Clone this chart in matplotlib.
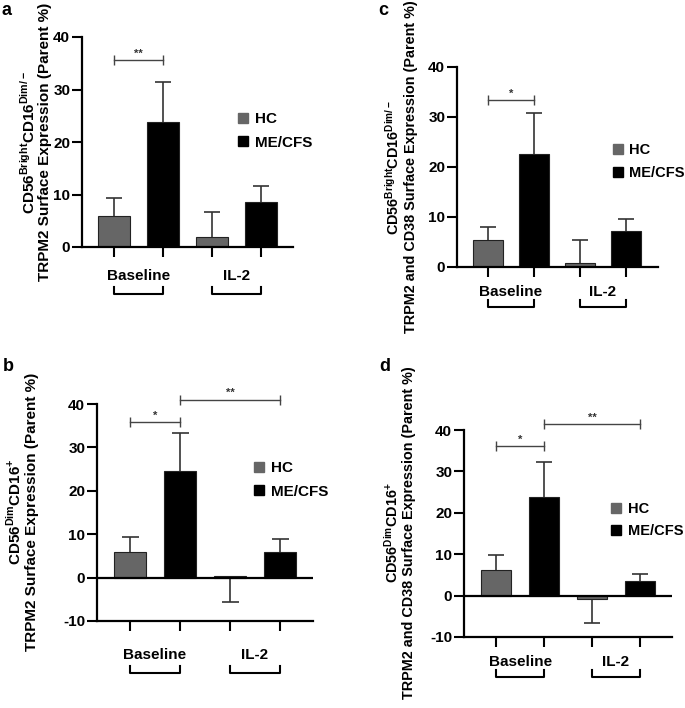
import matplotlib
matplotlib.use("Agg")
import matplotlib.pyplot as plt
from matplotlib.lines import Line2D

plt.rcParams["font.family"] = ["Liberation Sans", "DejaVu Sans"]
plt.rcParams["font.weight"] = "bold"
plt.rcParams["mathtext.fontset"] = "custom"
plt.rcParams["mathtext.rm"] = "Liberation Sans"
plt.rcParams["mathtext.bf"] = "Liberation Sans:bold"

# %%
# Data (means and the value each error bar reaches)
groups = ["Baseline", "IL-2"]
series = ["HC", "ME/CFS"]

a_hc = [6.0, 2.0]
a_hc_err = [9.3, 6.7]
a_me = [23.8, 8.5]
a_me_err = [31.4, 11.6]
a_sig = [(0, 1, 35.6, "**")]

b_hc = [6.0, 0.3]
b_hc_err = [9.3, -5.7]
b_me = [24.6, 6.0]
b_me_err = [33.4, 8.8]
b_sig = [(0, 1, 35.8, "*"), (1, 3, 41.0, "**")]

c_hc = [5.4, 0.8]
c_hc_err = [8.1, 5.5]
c_me = [22.7, 7.2]
c_me_err = [30.9, 9.6]
c_sig = [(0, 1, 33.4, "*")]

d_hc = [6.3, -0.8]
d_hc_err = [9.7, -6.5]
d_me = [23.9, 3.5]
d_me_err = [32.3, 5.3]
d_sig = [(0, 1, 36.1, "*"), (1, 3, 41.5, "**")]

ylabel_a = [r"$\mathbf{CD56}^{\mathrm{Bright}}\mathbf{CD16}^{\mathrm{Dim/-}}$",
            "TRPM2 Surface Expression (Parent %)"]
ylabel_b = [r"$\mathbf{CD56}^{\mathrm{Dim}}\mathbf{CD16}^{+}$",
            "TRPM2 Surface Expression (Parent %)"]
ylabel_c = [r"$\mathbf{CD56}^{\mathrm{Bright}}\mathbf{CD16}^{\mathrm{Dim/-}}$",
            "TRPM2 and CD38 Surface Expression (Parent %)"]
ylabel_d = [r"$\mathbf{CD56}^{\mathrm{Dim}}\mathbf{CD16}^{+}$",
            "TRPM2 and CD38 Surface Expression (Parent %)"]

HC_COLOR = "#666666"
ME_COLOR = "#000000"
ERR_COLOR = "#333333"

W, H = 685, 708
fig = plt.figure(figsize=(W / 100, H / 100), dpi=100)


def add_axes_px(left, right, top, bottom):
    return fig.add_axes([left / W, 1 - bottom / H, (right - left) / W, (bottom - top) / H])


def panel(ax, hc, hc_end, me, me_end, sig, ylim, xlim, yticks, leg_xy,
          cat_dy, bracket_dy, leg_size):
    xs = [0, 1, 2, 3]
    means = [hc[0], me[0], hc[1], me[1]]
    ends = [hc_end[0], me_end[0], hc_end[1], me_end[1]]
    colors = [HC_COLOR, ME_COLOR, HC_COLOR, ME_COLOR]

    ax.bar(xs, means, width=0.64, color=colors, edgecolor="#222222",
           linewidth=0.8, zorder=2)
    # one-sided error bars (Prism style): stem from bar top plus a single cap
    cap = 0.17
    ax.vlines(xs, means, ends, color=ERR_COLOR, lw=1.2, zorder=1)
    ax.hlines(ends, [x - cap for x in xs], [x + cap for x in xs],
              color=ERR_COLOR, lw=1.2, zorder=1)

    ax.set_xlim(*xlim)
    ax.set_ylim(*ylim)
    ax.set_yticks(yticks)
    ax.set_yticklabels([str(t) for t in yticks], fontsize=11, fontweight="bold")
    ax.set_xticks(xs)
    ax.set_xticklabels([])
    ax.tick_params(axis="y", direction="out", length=7, width=1.5, pad=1.5)
    ax.tick_params(axis="x", direction="out", length=7, width=1.5)
    for s in ["top", "right"]:
        ax.spines[s].set_visible(False)
    for s in ["left", "bottom"]:
        ax.spines[s].set_linewidth(1.6)
    if ylim[0] < 0:
        ax.axhline(0, color="black", lw=1.6, zorder=3)

    # significance brackets
    for i0, i1, y, star in sig:
        ax.plot([i0, i1], [y, y], color="#444444", lw=1, clip_on=False)
        ax.plot([i0, i1], [y, y], ls="none", marker="|", ms=7, mew=1,
                color="#444444", clip_on=False)
        ax.annotate(star, (0.5 * (i0 + i1), y), xytext=(0, 1),
                    textcoords="offset points", ha="center", va="bottom",
                    fontsize=8, fontweight="bold", color="#333333",
                    annotation_clip=False)

    # group labels and brackets below the axis
    trans = ax.get_xaxis_transform()
    hpx = ax.bbox.height
    for g, name in enumerate(groups):
        x0, x1 = 2 * g, 2 * g + 1
        ax.text(0.5 * (x0 + x1), -cat_dy / hpx, name, transform=trans,
                ha="center", va="center", fontsize=11, fontweight="bold")
        yb = -bracket_dy / hpx
        yt = -(bracket_dy - 7) / hpx
        ax.plot([x0, x0, x1, x1], [yt, yb, yb, yt], transform=trans,
                color="black", lw=1.5, clip_on=False)

    handles = [Line2D([], [], ls="none", marker="s", ms=7.5, color=HC_COLOR),
               Line2D([], [], ls="none", marker="s", ms=7.5, color=ME_COLOR)]
    ax.legend(handles, series, loc="center left", bbox_to_anchor=leg_xy,
              frameon=False, borderpad=0, borderaxespad=0, handlelength=0.8,
              handletextpad=0.4, labelspacing=0.6,
              prop={"size": leg_size, "weight": "bold"})


def ylab(lines, x1, x2, yc, size):
    fig.text(x1 / W, 1 - yc / H, lines[0], rotation=90, ha="center",
             va="center", fontsize=size, fontweight="bold")
    fig.text(x2 / W, 1 - yc / H, lines[1], rotation=90, ha="center",
             va="center", fontsize=size, fontweight="bold")


ax_a = add_axes_px(82, 293, 37, 247)
panel(ax_a, a_hc, a_hc_err, a_me, a_me_err, a_sig, (0, 40), (-0.653, 3.65),
      [0, 10, 20, 30, 40], (0.735, 0.552), 29, 47, 11)
ylab(ylabel_a, 28, 45, 142, 11)

ax_c = add_axes_px(457, 658, 67, 267)
panel(ax_c, c_hc, c_hc_err, c_me, c_me_err, c_sig, (0, 40), (-0.67, 3.7),
      [0, 10, 20, 30, 40], (0.771, 0.527), 25, 40, 10.5)
ylab(ylabel_c, 393, 411, 167, 10.4)

ax_b = add_axes_px(97, 313, 404, 621)
panel(ax_b, b_hc, b_hc_err, b_me, b_me_err, b_sig, (-10, 40), (-0.66, 3.66),
      [-10, 0, 10, 20, 30, 40], (0.722, 0.65), 34, 52, 11)
ylab(ylabel_b, 14, 32, 512, 11)

ax_d = add_axes_px(464, 672, 430, 637)
panel(ax_d, d_hc, d_hc_err, d_me, d_me_err, d_sig, (-10, 40), (-0.67, 3.67),
      [-10, 0, 10, 20, 30, 40], (0.702, 0.565), 25, 40, 10.5)
ylab(ylabel_d, 392, 409, 533, 10.4)

for lab, x, y in [("a", 2, 2), ("c", 378, 2), ("b", 3, 358), ("d", 379, 358)]:
    fig.text(x / W, 1 - y / H, lab, ha="left", va="top", fontsize=13,
             fontweight="bold")

fig.savefig("out.png", dpi=100)
